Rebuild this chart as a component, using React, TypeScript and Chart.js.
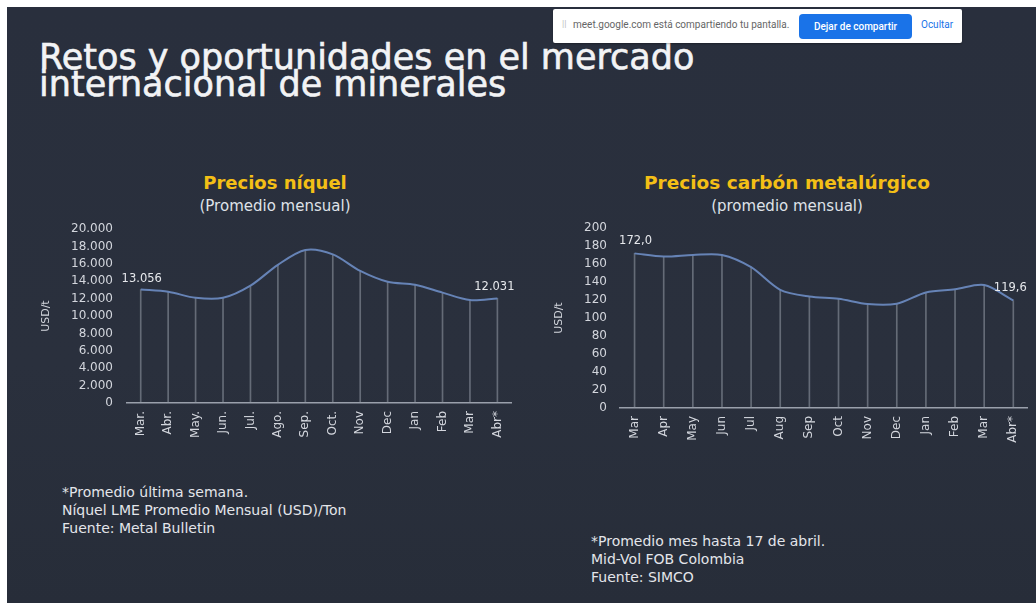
import React, { useEffect, useRef } from "react";
import { Chart, registerables } from "chart.js";

Chart.register(...registerables);

// ---------- DATA ----------
const nickelMonths = ["Mar.", "Abr.", "May.", "Jun.", "Jul.", "Ago.", "Sep.", "Oct.", "Nov", "Dec", "Jan", "Feb", "Mar", "Abr*"];
const nickelValues = [13056, 12800, 12100, 12100, 13500, 15900, 17600, 17100, 15200, 13950, 13600, 12700, 11850, 12031];
const nickelLabelIdx = [0, 13];

const coalMonths = ["Mar", "Apr", "May", "Jun", "Jul", "Aug", "Sep", "Oct", "Nov", "Dec", "Jan", "Feb", "Mar", "Abr*"];
const coalValues = [172.0, 168.5, 170.3, 170.3, 156.7, 131.5, 124.0, 121.5, 115.6, 116.0, 128.5, 132.0, 136.7, 119.6];
const coalLabelIdx = [0, 13];

const nickelNotes = ["*Promedio última semana.", "Níquel LME Promedio Mensual (USD)/Ton", "Fuente: Metal Bulletin"];
const coalNotes = ["*Promedio mes hasta 17 de abril.", "Mid-Vol FOB Colombia", "Fuente: SIMCO"];

const FONT = "'DejaVu Sans', 'Noto Sans', sans-serif";
const TICK_COLOR = "#d3d6dd";
const LINE_COLOR = "#6683b6";
const DROP_COLOR = "rgba(150,156,168,0.55)";

function fmtThousands(n: number): string {
  return Math.round(n).toString().replace(/\B(?=(\d{3})+(?!\d))/g, ".");
}
function fmtDec1(n: number): string {
  return n.toFixed(1).replace(".", ",");
}

const valueLabelPlugin = {
  id: "valueLabels",
  afterDatasetsDraw(chart: any, _args: any, opts: any) {
    if (!opts || !opts.items) return;
    const meta = chart.getDatasetMeta(opts.datasetIndex);
    const ds = chart.data.datasets[opts.datasetIndex];
    const ctx = chart.ctx;
    ctx.save();
    ctx.font = `11.5px ${FONT}`;
    ctx.fillStyle = "#e6e8ec";
    ctx.textAlign = "center";
    ctx.textBaseline = "middle";
    opts.items.forEach((it: any) => {
      const pt = meta.data[it.index];
      if (!pt) return;
      ctx.fillText(opts.format(ds.data[it.index]), pt.x + it.dx, pt.y + it.dy);
    });
    ctx.restore();
  },
};

type ChartProps = {
  labels: string[];
  values: number[];
  max: number;
  step: number;
  fmt: (n: number) => string;
  labelIdx: number[];
  labelOffsets: { dx: number; dy: number }[];
  yWidth: number;
  yTickPad: number;
  yTitlePad: number;
  xHeight: number;
  padTop: number;
  padRight: number;
  style: React.CSSProperties;
  width: number;
  height: number;
};

function LineChart(p: ChartProps) {
  const ref = useRef<HTMLCanvasElement | null>(null);
  useEffect(() => {
    if (!ref.current) return;
    const chart = new Chart(ref.current, {
      type: "line",
      data: {
        labels: p.labels,
        datasets: [
          {
            type: "line",
            data: p.values,
            borderColor: LINE_COLOR,
            borderWidth: 2,
            pointRadius: 0,
            tension: 0.3,
            fill: false,
            order: 1,
          } as any,
          {
            type: "bar",
            data: p.values,
            backgroundColor: DROP_COLOR,
            barThickness: 1,
            order: 2,
          } as any,
        ],
      },
      options: {
        responsive: false,
        animation: false,
        layout: { padding: { top: p.padTop, right: p.padRight, left: 0, bottom: 0 } },
        plugins: {
          legend: { display: false },
          tooltip: { enabled: false },
          valueLabels: {
            datasetIndex: 0,
            format: p.fmt,
            items: p.labelIdx.map((index, i) => ({ index, ...p.labelOffsets[i] })),
          },
        } as any,
        scales: {
          x: {
            offset: true,
            grid: { display: false, drawTicks: false },
            border: { display: true, color: "#9aa0ab", width: 1.5 },
            ticks: {
              color: TICK_COLOR,
              font: { family: FONT, size: 12 },
              minRotation: 90,
              maxRotation: 90,
              padding: 8,
              autoSkip: false,
            },
            afterFit: (s: any) => {
              s.height = p.xHeight;
            },
          },
          y: {
            min: 0,
            max: p.max,
            grid: { display: false, drawTicks: false },
            border: { display: false },
            ticks: {
              stepSize: p.step,
              autoSkip: false,
              color: TICK_COLOR,
              font: { family: FONT, size: 12 },
              padding: p.yTickPad,
              callback: (v: any) => (p.fmt === fmtDec1 ? String(v) : fmtThousands(Number(v))),
            },
            title: {
              display: true,
              text: "USD/t",
              color: TICK_COLOR,
              font: { family: FONT, size: 11 },
              padding: { top: p.yTitlePad, bottom: 0 },
            },
            afterFit: (s: any) => {
              s.width = p.yWidth;
            },
          },
        },
      },
      plugins: [valueLabelPlugin],
    } as any);
    return () => chart.destroy();
  }, []);
  return <canvas ref={ref} width={p.width} height={p.height} style={{ position: "absolute", width: p.width, height: p.height, ...p.style }} />;
}

export default function App() {
  return (
    <div style={{ position: "fixed", left: 0, top: 0, width: 1036, height: 603, background: "#ffffff", overflow: "hidden", fontFamily: FONT }}>
      <div style={{ position: "absolute", left: 7, top: 7, width: 1029, height: 596, background: "linear-gradient(180deg, #292f3d 0%, #2a303d 60%, #272d39 100%)" }} />

      {/* Main title */}
      <div style={{ position: "absolute", left: 39, top: 44, color: "#f2f3f5", fontSize: 35, lineHeight: "27px", fontWeight: 400, whiteSpace: "nowrap", WebkitTextStroke: "0.6px #f2f3f5" }}>
        <div>Retos y oportunidades en el mercado</div>
        <div>internacional de minerales</div>
      </div>

      {/* screen sharing bar */}
      <div style={{ position: "absolute", left: 553, top: 9, width: 409, height: 34, background: "#ffffff", borderRadius: 2, boxShadow: "0 1px 2px rgba(0,0,0,0.3)", fontFamily: "Roboto, sans-serif" }}>
        <div style={{ position: "absolute", left: 9, top: 10, fontSize: 9, color: "#bbb" }}>||</div>
        <div style={{ position: "absolute", left: 20, top: 10, fontSize: 10, color: "#666", whiteSpace: "nowrap" }}>meet.google.com está compartiendo tu pantalla.</div>
        <div style={{ position: "absolute", left: 246, top: 5, width: 113, height: 25, background: "#1a73e8", borderRadius: 4, color: "#fff", fontSize: 10, fontWeight: 500, textAlign: "center", lineHeight: "25px" }}>Dejar de compartir</div>
        <div style={{ position: "absolute", left: 368, top: 10, fontSize: 10, color: "#1a73e8" }}>Ocultar</div>
      </div>

      {/* Chart titles */}
      <div style={{ position: "absolute", left: 125, width: 300, top: 172, textAlign: "center", color: "#f3bf16", fontSize: 18, fontWeight: 700, whiteSpace: "nowrap" }}>Precios níquel</div>
      <div style={{ position: "absolute", left: 125, width: 300, top: 197, textAlign: "center", color: "#dfe2e8", fontSize: 15, whiteSpace: "nowrap" }}>(Promedio mensual)</div>
      <div style={{ position: "absolute", left: 637, width: 300, top: 172, textAlign: "center", color: "#f3bf16", fontSize: 18.5, fontWeight: 700, whiteSpace: "nowrap" }}>Precios carbón metalúrgico</div>
      <div style={{ position: "absolute", left: 637, width: 300, top: 197, textAlign: "center", color: "#dfe2e8", fontSize: 15, whiteSpace: "nowrap" }}>(promedio mensual)</div>

      <LineChart
        labels={nickelMonths}
        values={nickelValues}
        max={20000}
        step={2000}
        fmt={fmtThousands}
        labelIdx={nickelLabelIdx}
        labelOffsets={[{ dx: 1, dy: -11 }, { dx: -3, dy: -11 }]}
        yWidth={97}
        yTickPad={14}
        yTitlePad={10}
        xHeight={58}
        padTop={8}
        padRight={6}
        width={490}
        height={253}
        style={{ left: 30, top: 208 }}
      />
      <LineChart
        labels={coalMonths}
        values={coalValues}
        max={200}
        step={20}
        fmt={fmtDec1}
        labelIdx={coalLabelIdx}
        labelOffsets={[{ dx: 1, dy: -12 }, { dx: -3, dy: -12 }]}
        yWidth={90}
        yTickPad={13}
        yTitlePad={23}
        xHeight={52}
        padTop={8}
        padRight={8}
        width={506}
        height={252}
        style={{ left: 530, top: 208 }}
      />

      {/* Footnotes */}
      <div style={{ position: "absolute", left: 62, top: 483, color: "#e3e5ea", fontSize: 14, lineHeight: "18px", whiteSpace: "nowrap" }}>
        {nickelNotes.map((t, i) => <div key={i}>{t}</div>)}
      </div>
      <div style={{ position: "absolute", left: 591, top: 532, color: "#e3e5ea", fontSize: 14, lineHeight: "18px", whiteSpace: "nowrap" }}>
        {coalNotes.map((t, i) => <div key={i}>{t}</div>)}
      </div>
    </div>
  );
}
